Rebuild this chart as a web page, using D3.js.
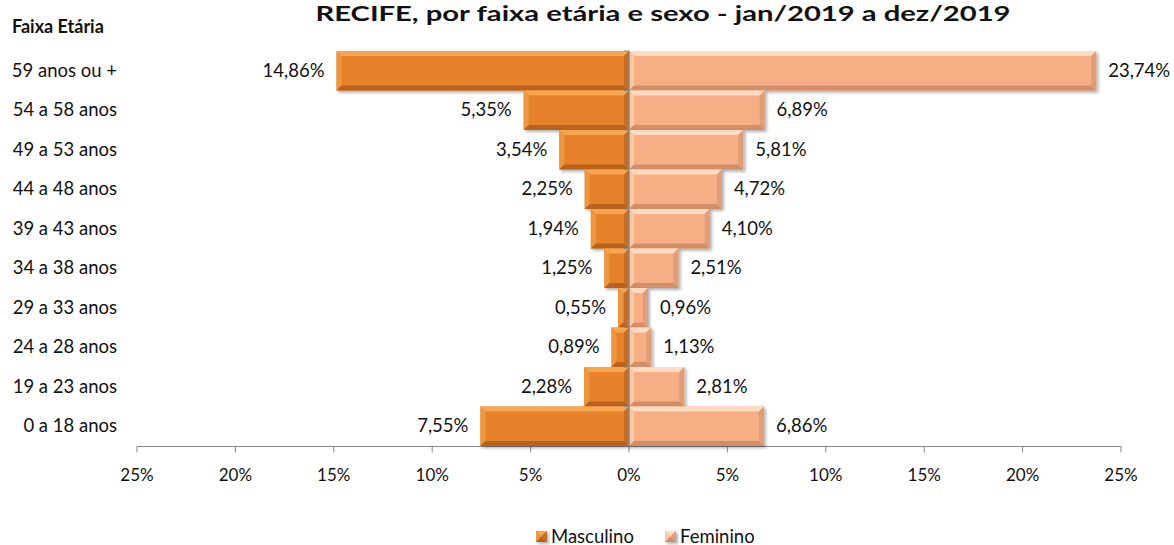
<!DOCTYPE html>
<html>
<head>
<meta charset="utf-8">
<script src="https://cdn.jsdelivr.net/npm/d3@7"></script>
<style>
  body { margin: 0; background: #fff; }
  svg { font-family: Lato, "Open Sans", sans-serif; }
</style>
</head>
<body>
<div id="chart"></div>
<script>
const faixas = ["59 anos ou +", "54 a 58 anos", "49 a 53 anos", "44 a 48 anos", "39 a 43 anos",
                "34 a 38 anos", "29 a 33 anos", "24 a 28 anos", "19 a 23 anos", "0 a 18 anos"];
const masculino = [14.86, 5.35, 3.54, 2.25, 1.94, 1.25, 0.55, 0.89, 2.28, 7.55];
const feminino  = [23.74, 6.89, 5.81, 4.72, 4.10, 2.51, 0.96, 1.13, 2.81, 6.86];
const ticks = [-25, -20, -15, -10, -5, 0, 5, 10, 15, 20, 25];

const width = 1174, height = 545;
const svg = d3.select("#chart").append("svg")
    .attr("width", width).attr("height", height);

const x = d3.scaleLinear().domain([-25, 25]).range([137, 1121]);
const y = d3.scaleBand().domain(faixas).range([51, 446]).padding(0);
const fmt = v => v.toFixed(2).replace(".", ",") + "%";
const fs = 18.5;

const defs = svg.append("defs");
const f = defs.append("filter").attr("id", "shadow").attr("x", "-10%").attr("y", "-20%")
    .attr("width", "130%").attr("height", "160%");
f.append("feDropShadow").attr("dx", 2).attr("dy", 2).attr("stdDeviation", 1.5)
    .attr("flood-color", "#000").attr("flood-opacity", 0.3);

const palettes = {
  m: {base: "#E6832B", top: "#F6A650", left: "#EE9640", bottom: "#B9621F", right: "#C86C22"},
  f: {base: "#F8AE85", top: "#FDDCC3", left: "#FBC8A5", bottom: "#D38E68", right: "#E09D77"}
};

function bevelBar(g, x0, x1, y0, y1, p) {
  const b = Math.min(5, (x1 - x0) / 2, (y1 - y0) / 2);
  const grp = g.append("g").attr("filter", "url(#shadow)");
  grp.append("rect").attr("x", x0).attr("y", y0).attr("width", x1 - x0).attr("height", y1 - y0)
      .attr("fill", p.base);
  const poly = (pts, c) => grp.append("polygon").attr("points", pts.map(d => d.join(",")).join(" ")).attr("fill", c);
  poly([[x0, y0], [x1, y0], [x1 - b, y0 + b], [x0 + b, y0 + b]], p.top);
  poly([[x0, y0], [x0 + b, y0 + b], [x0 + b, y1 - b], [x0, y1]], p.left);
  poly([[x0, y1], [x0 + b, y1 - b], [x1 - b, y1 - b], [x1, y1]], p.bottom);
  poly([[x1, y0], [x1, y1], [x1 - b, y1 - b], [x1 - b, y0 + b]], p.right);
}

// title (sits at the very top, as in the reference)
svg.append("text").attr("x", 663).attr("y", 21).attr("text-anchor", "middle")
    .attr("font-weight", "bold").attr("font-size", 21).attr("fill", "#111")
    .attr("textLength", 695).attr("lengthAdjust", "spacingAndGlyphs")
    .text("RECIFE, por  faixa etária e sexo - jan/2019 a dez/2019");

svg.append("text").attr("x", 12).attr("y", 33).attr("font-weight", "bold")
    .attr("font-size", 18).attr("fill", "#111").text("Faixa Etária");

// x axis
const xAxis = svg.append("g").attr("transform", "translate(0,446.5)");
xAxis.append("line").attr("x1", x(-25)).attr("x2", x(25)).attr("stroke", "#888");
xAxis.selectAll("line.t").data(ticks).enter().append("line").attr("class", "t")
    .attr("x1", d => x(d)).attr("x2", d => x(d)).attr("y1", 0).attr("y2", 6).attr("stroke", "#888");
xAxis.selectAll("text").data(ticks).enter().append("text")
    .attr("x", d => x(d)).attr("y", 34).attr("text-anchor", "middle")
    .attr("font-size", 17).attr("fill", "#111").text(d => Math.abs(d) + "%");

// bars
const bars = svg.append("g");
faixas.forEach((c, i) => {
  const y0 = y(c), y1 = y(c) + y.bandwidth();
  bevelBar(bars, x(-masculino[i]), x(0), y0, y1, palettes.m);
  bevelBar(bars, x(0), x(feminino[i]), y0, y1, palettes.f);
});

// center axis
const yAxis = svg.append("g");
yAxis.append("line").attr("x1", x(0)).attr("x2", x(0)).attr("y1", 51).attr("y2", 446).attr("stroke", "#888").attr("stroke-width", 1.5);
yAxis.selectAll("line.t").data(faixas.concat([null])).enter().append("line").attr("class", "t")
    .attr("x1", x(0) - 5).attr("x2", x(0))
    .attr("y1", (d, i) => 51 + i * y.step()).attr("y2", (d, i) => 51 + i * y.step())
    .attr("stroke", "#888");

// category labels (right-aligned)
svg.append("g").selectAll("text").data(faixas).enter().append("text")
    .attr("x", 117).attr("y", d => y(d) + y.bandwidth() / 2 + 6)
    .attr("text-anchor", "end")
    .attr("font-size", fs).attr("fill", "#111").text(d => d);

// data labels
svg.append("g").selectAll("text").data(masculino).enter().append("text")
    .attr("x", d => x(-d) - 12).attr("y", (d, i) => y(faixas[i]) + y.bandwidth() / 2 + 6)
    .attr("text-anchor", "end").attr("font-size", fs).attr("fill", "#111").text(fmt);
svg.append("g").selectAll("text").data(feminino).enter().append("text")
    .attr("x", d => x(d) + 12).attr("y", (d, i) => y(faixas[i]) + y.bandwidth() / 2 + 6)
    .attr("font-size", fs).attr("fill", "#111").text(fmt);

// legend
const legend = svg.append("g").attr("transform", "translate(0,536)");
[["Masculino", palettes.m, 536], ["Feminino", palettes.f, 665]].forEach(([name, p, lx]) => {
  bevelBar(legend, lx, lx + 11, -5, 6, p);
  legend.append("text").attr("x", lx + 15).attr("y", 6.5).attr("font-size", fs).attr("fill", "#111").text(name);
});
</script>
</body>
</html>
